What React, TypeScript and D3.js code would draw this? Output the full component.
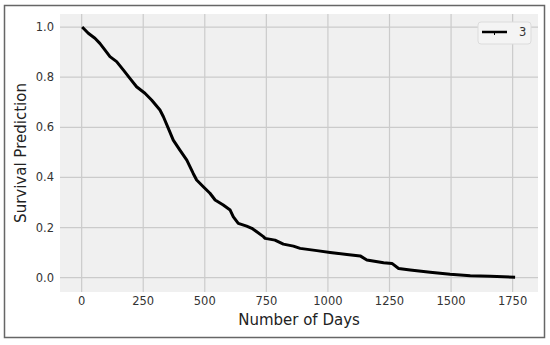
import { useEffect, useRef } from "react";
import * as d3 from "d3";

// survival curve (days, probability)
const days = [2, 27, 54, 74, 95, 115, 142, 169, 196, 223, 257, 284, 318, 332, 352, 372, 399, 427, 453, 467, 494, 521, 542, 575, 603, 616, 636, 670, 691, 711, 738, 745, 785, 819, 860, 887, 955, 1009, 1077, 1131, 1158, 1226, 1260, 1287, 1334, 1415, 1496, 1578, 1659, 1760];
const survival = [1.0, 0.975, 0.955, 0.935, 0.908, 0.882, 0.862, 0.829, 0.795, 0.762, 0.736, 0.709, 0.669, 0.642, 0.596, 0.549, 0.509, 0.469, 0.416, 0.39, 0.363, 0.337, 0.31, 0.29, 0.27, 0.243, 0.217, 0.206, 0.197, 0.183, 0.164, 0.157, 0.15, 0.134, 0.126, 0.117, 0.108, 0.101, 0.093, 0.087, 0.071, 0.06, 0.057, 0.037, 0.031, 0.022, 0.014, 0.008, 0.006, 0.002];
const xTicks = [0, 250, 500, 750, 1000, 1250, 1500, 1750];
const yTicks = [0.0, 0.2, 0.4, 0.6, 0.8, 1.0];
const seriesLabel = "3";

const App = () => {
  const svgRef = useRef<SVGSVGElement>(null);

  useEffect(() => {
    const svg = d3.select(svgRef.current);
    svg.selectAll("*").remove();

    const left = 60, right = 538, top = 14, bottom = 292;
    const font = "DejaVu Sans, sans-serif";

    // figure frame
    svg.append("rect")
      .attr("x", 4.5).attr("y", 5.5)
      .attr("width", 540).attr("height", 332)
      .attr("fill", "#fff")
      .attr("stroke", "#666")
      .attr("stroke-width", 1.5);

    const x = d3.scaleLinear().domain([-87.9, 1853]).range([left, right]);
    const y = d3.scaleLinear().domain([-0.057, 1.052]).range([bottom, top]);

    svg.append("rect")
      .attr("x", left).attr("y", top)
      .attr("width", right - left).attr("height", bottom - top)
      .attr("fill", "#f0f0f0");

    // grid
    svg.append("g").selectAll("line")
      .data(xTicks)
      .enter().append("line")
      .attr("x1", d => x(d)).attr("x2", d => x(d))
      .attr("y1", top).attr("y2", bottom)
      .attr("stroke", "#cbcbcb").attr("stroke-width", 1.2);

    svg.append("g").selectAll("line")
      .data(yTicks)
      .enter().append("line")
      .attr("x1", left).attr("x2", right)
      .attr("y1", d => y(d)).attr("y2", d => y(d))
      .attr("stroke", "#cbcbcb").attr("stroke-width", 1.2);

    // tick labels
    svg.append("g").selectAll("text")
      .data(xTicks)
      .enter().append("text")
      .attr("x", d => x(d)).attr("y", 305)
      .attr("text-anchor", "middle")
      .attr("font-family", font).attr("font-size", 11.5)
      .attr("fill", "#333")
      .text(d => d);

    svg.append("g").selectAll("text")
      .data(yTicks)
      .enter().append("text")
      .attr("x", 54).attr("y", d => y(d) + 4)
      .attr("text-anchor", "end")
      .attr("font-family", font).attr("font-size", 11.5)
      .attr("fill", "#333")
      .text(d => d.toFixed(1));

    // axis labels
    svg.append("text")
      .attr("x", (left + right) / 2).attr("y", 325)
      .attr("text-anchor", "middle")
      .attr("font-family", font).attr("font-size", 15)
      .attr("fill", "#222")
      .text("Number of Days");

    svg.append("text")
      .attr("transform", `translate(26,${(top + bottom) / 2}) rotate(-90)`)
      .attr("text-anchor", "middle")
      .attr("font-family", font).attr("font-size", 15)
      .attr("fill", "#222")
      .text("Survival Prediction");

    // survival curve
    const line = d3.line<number>()
      .x((d, i) => x(days[i]))
      .y(d => y(d));

    svg.append("path")
      .datum(survival)
      .attr("fill", "none")
      .attr("stroke", "#000")
      .attr("stroke-width", 3)
      .attr("stroke-linejoin", "round")
      .attr("d", line);

    // legend
    const lg = svg.append("g").attr("transform", "translate(478,22)");
    lg.append("rect")
      .attr("width", 53).attr("height", 22)
      .attr("rx", 3)
      .attr("fill", "#f4f4f4")
      .attr("stroke", "#dcdcdc")
      .attr("stroke-width", 1);
    lg.append("line")
      .attr("x1", 4).attr("x2", 29)
      .attr("y1", 10).attr("y2", 10)
      .attr("stroke", "#000").attr("stroke-width", 2.5);
    lg.append("line")
      .attr("x1", 16.5).attr("x2", 16.5)
      .attr("y1", 10).attr("y2", 13)
      .attr("stroke", "#000").attr("stroke-width", 1);
    lg.append("text")
      .attr("x", 41).attr("y", 14)
      .attr("font-family", font).attr("font-size", 11.5)
      .attr("fill", "#333")
      .text(seriesLabel);
  }, []);

  return (
    <svg
      ref={svgRef}
      width={550}
      height={345}
      style={{ position: "absolute", left: 0, top: 0 }}
    ></svg>
  );
};

export default App;
